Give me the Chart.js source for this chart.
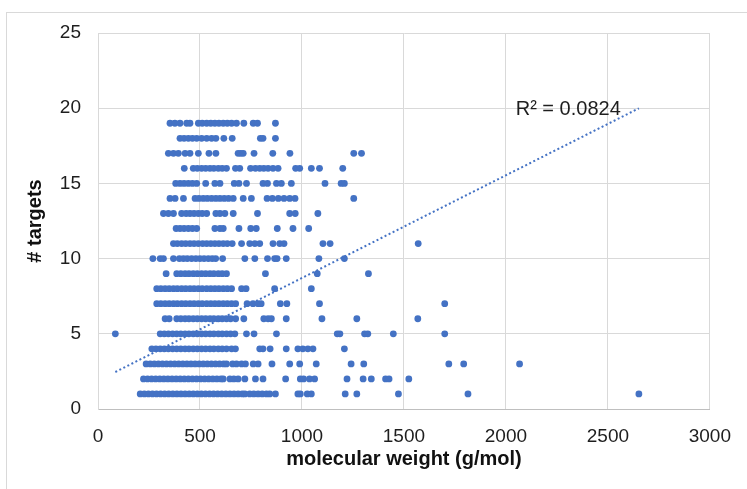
<!DOCTYPE html>
<html><head><meta charset="utf-8">
<script src="https://cdn.jsdelivr.net/npm/chart.js@4.4.0/dist/chart.umd.min.js"></script>
<style>html,body{margin:0;padding:0;background:#fff;}#wrap{width:747px;height:489px;position:relative;}</style>
</head><body><div id="wrap"><canvas id="c" width="747" height="489"></canvas></div>
<script>
// molecular weight (g/mol) of compounds, grouped by number of targets
const mwT1 = [207,227,247,267,287,307,327,347,367,387,407,427,447,467,487,507,527,547,567,587,607,627,647,667,687,707,720,744,764,785,805,826,842,870,980,992,1026,1046,1212,1269,1473,1814,2652];
const mwT2 = [223,243,263,283,303,323,343,363,383,403,423,443,463,483,503,523,543,563,583,603,614,647,666,687,720,772,809,920,992,1008,1037,1062,1221,1300,1340,1410,1427,1524];
const mwT3 = [236,256,276,296,316,336,356,376,396,416,436,456,476,496,516,536,556,576,596,616,630,660,679,704,723,761,785,853,940,989,1070,1241,1303,1720,1793,2067];
const mwT4 = [264,284,305,325,345,366,386,406,427,446,467,487,508,528,549,568,590,609,630,655,674,793,809,844,923,980,1004,1029,1054,1208];
const mwT5 = [85,305,325,345,366,386,406,427,446,467,487,508,528,549,568,590,609,630,650,671,728,765,875,1173,1186,1307,1323,1448,1700];
const mwT6 = [329,349,386,406,427,446,467,487,508,528,549,568,590,609,630,650,675,715,813,834,850,923,1098,1269,1568];
const mwT7 = [288,308,329,349,370,389,410,430,451,471,492,511,533,553,573,593,614,634,655,675,731,760,785,800,894,926,1086,1700];
const mwT8 = [288,308,329,349,370,389,410,430,451,471,492,511,533,553,573,593,614,634,655,704,726,866,1046];
const mwT9 = [334,386,406,427,446,467,487,508,528,549,568,590,609,630,821,1075,1326];
const mwT10 = [269,305,321,370,399,419,438,459,480,500,520,541,560,577,611,720,769,831,866,878,923,1083,1208];
const mwT11 = [370,389,410,430,451,471,492,513,533,553,573,593,614,634,658,704,744,769,793,858,891,912,1103,1138,1570];
const mwT12 = [383,402,422,443,463,484,573,598,614,691,749,776,879,956,1033];
const mwT13 = [321,345,370,410,432,451,471,492,511,533,578,598,622,663,782,940,967,1078];
const mwT14 = [353,378,419,476,495,516,536,557,578,598,619,640,663,712,752,829,855,884,912,940,966,1254];
const mwT15 = [381,402,422,443,463,484,528,573,598,668,691,728,809,831,875,899,948,1113,1192,1208];
const mwT16 = [423,467,487,508,528,549,568,590,609,630,674,695,748,772,793,813,834,858,883,969,989,1046,1086,1200];
const mwT17 = [345,370,394,427,451,492,544,578,687,700,712,765,857,941,1254,1292];
const mwT18 = [402,422,443,463,484,508,533,557,578,617,658,796,809,870];
const mwT19 = [353,377,402,435,451,492,511,533,553,573,593,614,634,655,679,715,761,782,870];

const targetCounts = [1,2,3,4,5,6,7,8,9,10,11,12,13,14,15,16,17,18,19];
const mwRows = [mwT1,mwT2,mwT3,mwT4,mwT5,mwT6,mwT7,mwT8,mwT9,mwT10,mwT11,mwT12,mwT13,mwT14,mwT15,mwT16,mwT17,mwT18,mwT19];

// linear trendline
const trendSlope = 0.00683;
const trendIntercept = 1.88;
const trendRange = [85, 2652];
const rSquaredText = 'R² = 0.0824';

const xTicks = [0,500,1000,1500,2000,2500,3000];
const yTicks = [0,5,10,15,20,25];

const points = [];
mwRows.forEach((row, i) => row.forEach(mw => points.push({x: mw, y: targetCounts[i]})));
const trendPoints = trendRange.map(x => ({x, y: trendIntercept + trendSlope * x}));

const BLUE = '#4472C4';
const FONT = "'Liberation Sans', Arial, sans-serif";
const TEXT = '#1e1e1e';

const framePlugin = {
  id: 'frame',
  beforeDraw(chart) {
    const ctx = chart.ctx;
    ctx.save();
    ctx.fillStyle = '#fff';
    ctx.fillRect(0, 0, chart.width, chart.height);
    ctx.strokeStyle = '#d9d9d9';
    ctx.lineWidth = 1;
    ctx.strokeRect(6.5, 12.5, 900, 600);
    ctx.restore();
  }
};

const r2Plugin = {
  id: 'r2label',
  afterDatasetsDraw(chart) {
    const ctx = chart.ctx;
    const xs = chart.scales.x, ys = chart.scales.y;
    ctx.save();
    ctx.font = '20px ' + FONT;
    ctx.fillStyle = TEXT;
    ctx.textAlign = 'left';
    ctx.textBaseline = 'middle';
    ctx.fillText(rSquaredText, xs.getPixelForValue(2048), ys.getPixelForValue(20) + 1);
    ctx.restore();
  }
};

new Chart(document.getElementById('c'), {
  type: 'scatter',
  data: {
    datasets: [
      {
        type: 'line',
        data: trendPoints,
        borderColor: BLUE,
        borderWidth: 2,
        borderDash: [2, 2.5],
        pointRadius: 0,
        fill: false,
        order: 0
      },
      {
        data: points,
        backgroundColor: BLUE,
        borderColor: BLUE,
        borderWidth: 0,
        pointRadius: 3.4,
        order: 1
      }
    ]
  },
  options: {
    responsive: false,
    animation: false,
    devicePixelRatio: 1,
    layout: {padding: {left: 0, top: 33, right: 34, bottom: 0}},
    plugins: {legend: {display: false}, tooltip: {enabled: false}},
    scales: {
      x: {
        type: 'linear', min: 0, max: 3000,
        afterBuildTicks: s => { s.ticks = xTicks.map(v => ({value: v})); },
        afterFit: s => { s.height = 80; },
        grid: {color: '#d9d9d9', drawTicks: false},
        border: {color: '#bfbfbf', width: 1},
        ticks: {padding: 16, color: TEXT, font: {family: FONT, size: 19}, maxRotation: 0, callback: v => String(v)},
        title: {display: true, text: 'molecular weight (g/mol)', color: '#111', font: {family: FONT, size: 20, weight: 'bold'}, padding: {top: 0, bottom: 18}}
      },
      y: {
        type: 'linear', min: 0, max: 25,
        afterBuildTicks: s => { s.ticks = yTicks.map(v => ({value: v})); },
        afterFit: s => { s.width = 98; },
        grid: {color: '#d9d9d9', drawTicks: false},
        border: {color: '#d9d9d9', width: 1},
        ticks: {padding: 17, color: TEXT, font: {family: FONT, size: 19}, callback: v => String(v)},
        title: {display: true, text: '# targets', color: '#111', font: {family: FONT, size: 20, weight: 'bold'}, padding: {top: 23, bottom: 0}}
      }
    }
  },
  plugins: [framePlugin, r2Plugin]
});
</script>
</body></html>
